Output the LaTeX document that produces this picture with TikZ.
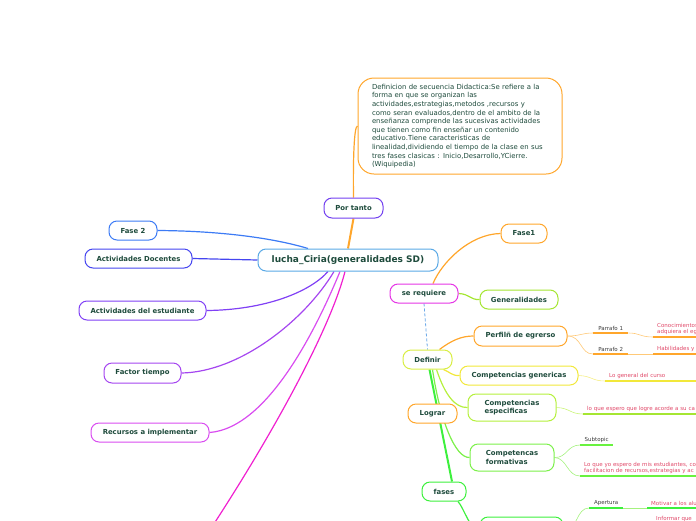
\documentclass[tikz,border=0pt]{standalone}
\usepackage{fontspec}
\setmainfont{DejaVu Sans}
\usetikzlibrary{backgrounds}

\definecolor{txtdark}{HTML}{1E4B3C}
\definecolor{txtgray}{HTML}{3A3A3A}
\definecolor{leafred}{HTML}{E04868}
\definecolor{orangeb}{HTML}{FFA62B}
\definecolor{orangelight}{HTML}{FFC978}
\definecolor{mainblue}{HTML}{5AA9E6}
\definecolor{purpleb}{HTML}{7340F0}
\definecolor{magentab}{HTML}{E535E5}
\definecolor{limeb}{HTML}{A5E632}
\definecolor{yellowgreen}{HTML}{D9EE45}
\definecolor{yellowb}{HTML}{F2E83A}
\definecolor{yellowlight}{HTML}{F5EE88}
\definecolor{limeb2}{HTML}{B5F03C}
\definecolor{limelight}{HTML}{CBF57A}
\definecolor{greenb}{HTML}{7CF04A}
\definecolor{greenlight}{HTML}{A4F27E}
\definecolor{greenbright}{HTML}{3DF03D}
\definecolor{blueb}{HTML}{3C7BF5}
\definecolor{indigob}{HTML}{4545F0}
\definecolor{violetb}{HTML}{8040F5}
\definecolor{purple2}{HTML}{A546F0}
\definecolor{pinkviolet}{HTML}{D94CF0}
\definecolor{magentaline}{HTML}{F020D0}
\definecolor{dashblue}{HTML}{6AA8E8}

\begin{document}
\begin{tikzpicture}[
		x=1pt, y=-1pt,
		topic/.style={
			draw, fill=white, rounded corners=8pt, line width=1pt,
			text=txtdark, align=center,
			inner xsep=2pt, inner ysep=2pt,
			minimum height=19pt,
			font=\fontsize{6.9}{8.3}\selectfont\bfseries
		},
		leaf/.style={anchor=south west, inner xsep=4pt, inner ysep=2pt, align=left,
			text=leafred, font=\fontsize{5.5}{6.6}\selectfont},
		subleaf/.style={leaf, align=center, text=txtgray},
		branch/.style={line width=1.2pt},
		twig/.style={line width=0.6pt},
		ul/.style={line width=1.5pt}
		]
		\useasboundingbox (0,0) rectangle (696,520);
		\clip (0,0) rectangle (696,520);
		
		\node[topic, draw=mainblue, minimum width=180pt, minimum height=22pt,
			font=\fontsize{9}{11}\selectfont\bfseries] (lucha) at (348,260) {lucha\_Ciria(generalidades SD)};
		\node[topic, draw=orangeb, rounded corners=16pt, minimum width=204pt, minimum height=96pt,
			text width=176pt, inner xsep=14pt, align=left,
			font=\fontsize{6.9}{8.6}\selectfont] (definicion) at (460,126) {Definicion de secuencia Didactica:Se refiere a la\\
			forma en que se organizan las\\
			actividades,estrategias,metodos ,recursos y\\
			como seran evaluados,dentro de el  ambito de la\\
			enseñanza comprende las sucesivas actividades\\
			que tienen como fin enseñar un contenido\\
			educativo.Tiene caracteristicas de\\
			linealidad,dividiendo el tiempo de la clase en sus\\
			tres fases clasicas : Inicio,Desarrollo,YCierre.\\
			(Wiquipedia)};
		\node[topic, draw=purpleb, minimum width=59pt, minimum height=20pt] (portanto) at (353.5,208) {Por tanto};
		\node[topic, draw=orangeb, minimum width=46pt] (fase1) at (524,233.5) {Fase1};
		\node[topic, draw=magentab, minimum width=68pt] (requiere) at (424,293.5) {se requiere};
		\node[topic, draw=limeb, minimum width=78pt] (generalidades) at (519,299.5) {Generalidades};
		\node[topic, draw=yellowgreen, minimum width=49pt] (definir) at (427.5,359.5) {Definir};
		\node[topic, draw=orangeb, minimum width=93pt, minimum height=20pt] (perfil) at (520.5,336) {Perfilñ de egrerso};
		\node[topic, draw=yellowb, minimum width=118pt] (genericas) at (519,375.5) {Competencias genericas};
		\node[topic, draw=limeb2, minimum width=88pt, minimum height=27pt, align=left] (especificas) at (512,407.5) {Competencias\\especificas};
		\node[topic, draw=orangeb, minimum width=49pt] (lograr) at (432.5,413.5) {Lograr};
		\node[topic, draw=greenb, minimum width=84pt, minimum height=27pt, align=left] (formativas) at (512,457.5) {Competencas\\formativas};
		\node[topic, draw=greenbright, minimum width=44pt] (fases) at (444,491.5) {fases};
		\node[topic, draw=greenbright, minimum width=83pt, minimum height=30pt] (fasebox) at (521.5,532) {};
		
		\node[topic, draw=blueb, minimum width=48pt] (fase2) at (133,230.5) {Fase 2};
		\node[topic, draw=indigob, minimum width=107pt] (docentes) at (138.5,258.5) {Actividades Docentes};
		\node[topic, draw=violetb, minimum width=127pt] (estudiante) at (142.5,310.5) {Actividades del estudiante};
		\node[topic, draw=purple2, minimum width=77pt, minimum height=20pt] (tiempo) at (142.5,373) {Factor tiempo};
		\node[topic, draw=pinkviolet, minimum width=118pt] (recursos) at (150,432.5) {Recursos a implementar};
		\coordinate (abajo) at (200,545);
		
		\node[subleaf, minimum width=35pt] (parrafo1) at (593,333) {Parrafo 1};
		\node[leaf, text width=56pt] (conocimientos) at (653,337) {Conocimientos\\adquiera el eg};
		\node[subleaf, minimum width=35pt] (parrafo2) at (593,354) {Parrafo 2};
		\node[leaf, text width=56pt] (habilidades) at (653,354) {Habilidades y};
		\node[leaf, text width=100pt] (general) at (605,381) {Lo general del curso};
		\node[leaf, text width=120pt] (espero) at (583,414) {lo que espero que logre acorde a su ca};
		\node[subleaf, minimum width=33pt] (subtopic) at (580,445) {Subtopic};
		\node[leaf, text width=120pt] (estudiantes) at (580,476) {Lo que yo espero de mis estudiantes, co\\facilitacion de recursos,estrategias y ac};
		\node[subleaf, minimum width=34pt] (apertura) at (589,508) {Apertura};
		\node[leaf, text width=56pt] (motivar) at (647,508) {Motivar a los alu};
		\node[leaf, anchor=north west] (informar) at (652,514) {Informar que};
		
		\draw[ul, orangeb] (parrafo1.south west) -- (parrafo1.south east);
		\draw[ul, orangeb] (conocimientos.south west) -- (conocimientos.south east);
		\draw[ul, orangeb] (parrafo2.south west) -- (parrafo2.south east);
		\draw[ul, orangeb] (habilidades.south west) -- (habilidades.south east);
		\draw[ul, yellowb] (general.south west) -- (general.south east);
		\draw[ul, limeb] (espero.south west) -- (espero.south east);
		\draw[ul, greenb!85!green] (subtopic.south west) -- (subtopic.south east);
		\draw[ul, greenb!85!green] (estudiantes.south west) -- (estudiantes.south east);
		\draw[ul, greenbright] (apertura.south west) -- (apertura.south east);
		\draw[ul, greenbright] (motivar.south west) -- (motivar.south east);
		
		\begin{pgfonlayer}{background}
			\draw[orangeb, line width=2pt] (lucha.north) -- (portanto.south);
			\draw[branch, orangeb] (portanto.north) .. controls (353,160) and (354,126) .. (definicion.west);
			\draw[branch, orangeb] ([xshift=9pt]requiere.north) .. controls (442,262) and (470,234) .. (fase1.west);
			\draw[branch, limeb] (requiere.east) .. controls (470,294) and (470,300) .. (generalidades.west);
			\draw[line width=0.8pt, dashblue, dash pattern=on 3pt off 2pt] (requiere.south) -- (definir.north);
			\draw[branch, orangeb] ([xshift=12pt]definir.north) .. controls (452,340) and (462,336) .. (perfil.west);
			\draw[branch, yellowb] ([xshift=16pt]definir.south) .. controls (450,372) and (452,376) .. (genericas.west);
			\draw[branch, limeb2] ([xshift=9pt]definir.south) .. controls (445,395) and (455,408) .. (especificas.west);
			\draw[branch, greenb] ([xshift=5pt]definir.south) .. controls (440,420) and (455,458) .. (formativas.west);
			\draw[greenbright, line width=2pt] ([xshift=2pt]definir.south) -- ([xshift=8pt]fases.north);
			\draw[branch, greenbright] ([xshift=14pt]fases.south) .. controls (464,508) and (470,530) .. (fasebox.west);
			
			\draw[twig, orangelight] (perfil.east) .. controls (580,336) and (582,333) .. (parrafo1.south west);
			\draw[twig, orangelight] (perfil.east) .. controls (582,336) and (580,354) .. (parrafo2.south west);
			\draw[twig, orangelight] (parrafo1.south east) .. controls (640,333) and (640,337) .. (conocimientos.south west);
			\draw[twig, orangelight] (parrafo2.south east) -- (habilidades.south west);
			\draw[twig, yellowlight] (genericas.east) .. controls (592,376) and (592,381) .. (general.south west);
			\draw[twig, limelight] (especificas.east) .. controls (570,408) and (570,414) .. (espero.south west);
			\draw[twig, greenlight] (formativas.east) .. controls (567,458) and (567,445) .. (subtopic.south west);
			\draw[twig, greenlight] (formativas.east) .. controls (567,458) and (567,476) .. (estudiantes.south west);
			\draw[twig, greenlight] (fasebox.east) .. controls (578,530) and (576,508) .. (apertura.south west);
			\draw[twig, greenlight] (apertura.south east) -- (motivar.south west);
			
			\draw[branch, blueb] (fase2.east) .. controls (230,231) and (280,240) .. ([xshift=-40pt]lucha.north);
			\draw[branch, indigob] (docentes.east) -- (lucha.west);
			\draw[branch, violetb] (estudiante.east) .. controls (265,310) and (310,292) .. ([xshift=-20pt]lucha.south);
			\draw[branch, purple2] (tiempo.east) .. controls (240,372) and (305,320) .. ([xshift=-14pt]lucha.south);
			\draw[branch, pinkviolet] (recursos.east) .. controls (270,428) and (320,320) .. ([xshift=-8pt]lucha.south);
			\draw[branch, magentaline] ([xshift=-3pt]lucha.south) .. controls (330,330) and (270,440) .. (abajo);
		\end{pgfonlayer}
	\end{tikzpicture}
\end{document}
